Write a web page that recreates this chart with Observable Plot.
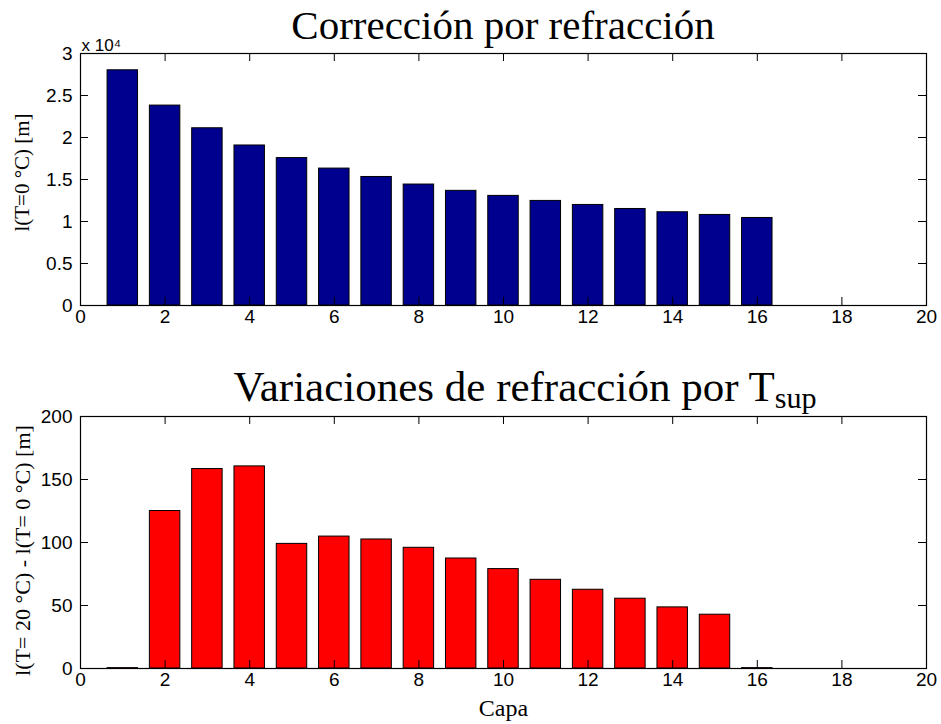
<!DOCTYPE html>
<html><head><meta charset="utf-8">
<script src="https://cdn.jsdelivr.net/npm/d3@7"></script>
<script src="https://cdn.jsdelivr.net/npm/@observablehq/plot@0.6"></script>
<style>
body{margin:0;background:#fff;}
#wrap{position:relative;width:941px;height:724px;overflow:hidden;}
#wrap svg{display:block;}
.title{position:absolute;text-align:center;font-family:"Liberation Serif","Times New Roman",serif;line-height:1;color:#000;white-space:nowrap;}
.title sub{font-size:0.7em;vertical-align:-0.22em;line-height:0;}
</style></head><body><div id="wrap"></div>
<script>
// Capas (layers)
const capas = [1,2,3,4,5,6,7,8,9,10,11,12,13,14,15,16];
// l(T=0 °C) [m]
const longitud = [28000,23800,21100,19050,17550,16300,15300,14400,13650,13050,12450,11970,11490,11100,10780,10420];
// l(T=20 °C) - l(T=0 °C) [m]
const variacion = [0.3,125,158.3,160.4,98.9,104.7,102.4,95.8,87.3,78.9,70.4,62.5,55.4,48.5,42.7,0.3];

const xTicks = [0,2,4,6,8,10,12,14,16,18,20];
const yTicksTop = [0,5000,10000,15000,20000,25000,30000];
const yTicksTopLabels = ["0","0.5","1","1.5","2","2.5","3"];
const yTicksBottom = [0,50,100,150,200];

const titleTop = "Corrección por refracción";
const titleBottomMain = "Variaciones de refracción por T";
const titleBottomSub = "sup";
const yLabelTop = "l(T=0 °C) [m]";
const yLabelBottom = "l(T= 20 °C) - l(T= 0 °C) [m]";
const xLabel = "Capa";
const exponentLabel = "x 10⁴";

const halfWidth = 0.36;
const sans = "'Liberation Sans', Arial, Helvetica, sans-serif";
const serif = "'Liberation Serif', 'Times New Roman', serif";
const W = 941, H = 362;
const mL = 80, mR = 15;

function panel({data, values, fill, yDomain, yTicks, yTickLabels, mT, mB, yLabel, yLabelDy, yLabelSize, extra = []}) {
  const frameH = H - mT - mB;
  const rows = data.map((c, i) => ({capa: c, valor: values[i]}));
  return Plot.plot({
    width: W, height: H,
    marginLeft: mL, marginRight: mR, marginTop: mT, marginBottom: mB,
    x: {domain: [0, 20], axis: null},
    y: {domain: yDomain, axis: null},
    style: {background: "white", color: "black", fontFamily: sans, fontSize: "19px"},
    marks: [
      Plot.rectY(rows, {x1: d => d.capa - halfWidth, x2: d => d.capa + halfWidth, y: "valor", fill, stroke: "black", strokeWidth: 1}),
      // inward ticks
      Plot.tickX(xTicks, {x: d => d, insetTop: frameH - 8, stroke: "black"}),
      Plot.tickX(xTicks, {x: d => d, insetBottom: frameH - 8, stroke: "black"}),
      Plot.tickY(yTicks, {y: d => d, insetRight: (W - mL - mR) - 8, stroke: "black"}),
      Plot.tickY(yTicks, {y: d => d, insetLeft: (W - mL - mR) - 8, stroke: "black"}),
      Plot.frame({stroke: "black", strokeWidth: 1.2}),
      // tick labels
      Plot.text(xTicks, {x: d => d, frameAnchor: "bottom", dy: 17, text: d => String(d), fontSize: 19, fontFamily: sans}),
      Plot.text(yTicks, {y: d => d, frameAnchor: "left", dx: -8, textAnchor: "end", text: (d, i) => yTickLabels[i], fontSize: 19, fontFamily: sans}),
      // y label
      Plot.text([yLabel], {frameAnchor: "left", dx: -58, dy: yLabelDy, rotate: -90, textAnchor: "middle", text: d => d, fontSize: yLabelSize, fontFamily: serif}),
      ...extra
    ]
  });
}

const wrap = document.getElementById("wrap");

const p1 = panel({
  data: capas, values: longitud, fill: "#00008F",
  yDomain: [0, 30000], yTicks: yTicksTop, yTickLabels: yTicksTopLabels,
  mT: 53, mB: 57, yLabel: yLabelTop, yLabelDy: -7, yLabelSize: 21,
  extra: [Plot.text([exponentLabel], {frameAnchor: "top-left", dx: 1, dy: -15, textAnchor: "start", text: d => d, fontSize: 17, fontFamily: sans})]
});
const p2 = panel({
  data: capas, values: variacion, fill: "#FF0000",
  yDomain: [0, 200], yTicks: yTicksBottom, yTickLabels: yTicksBottom.map(String),
  mT: 54, mB: 56, yLabel: yLabelBottom, yLabelDy: 8, yLabelSize: 22,
  extra: [Plot.text([xLabel], {frameAnchor: "bottom", dy: 47, text: d => d, fontSize: 24, fontFamily: serif})]
});
wrap.appendChild(p1);
wrap.appendChild(p2);

const t1 = document.createElement("div");
t1.className = "title";
Object.assign(t1.style, {left: "80px", width: "846px", top: "5px", fontSize: "41px"});
t1.textContent = titleTop;
wrap.appendChild(t1);
const t2 = document.createElement("div");
t2.className = "title";
Object.assign(t2.style, {left: "102px", width: "846px", top: "365px", fontSize: "43px"});
t2.appendChild(document.createTextNode(titleBottomMain));
const sub = document.createElement("sub"); sub.textContent = titleBottomSub;
t2.appendChild(sub);
wrap.appendChild(t2);
</script>
</body></html>
